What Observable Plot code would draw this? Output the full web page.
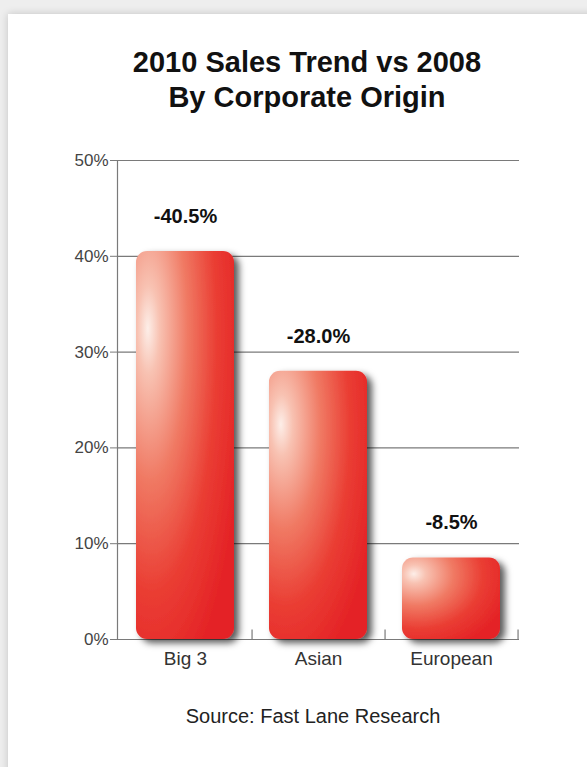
<!DOCTYPE html>
<html>
<head>
<meta charset="utf-8">
<script src="https://cdn.jsdelivr.net/npm/d3@7"></script>
<script src="https://cdn.jsdelivr.net/npm/@observablehq/plot@0.6"></script>
<style>
  html, body { margin: 0; padding: 0; width: 587px; height: 767px; overflow: hidden; background: #eeeeee; font-family: "Liberation Sans", Arial, sans-serif; }
  #card { position: absolute; left: 8px; top: 14px; width: 600px; height: 780px; background: #fff; box-shadow: 0 0 8px rgba(0,0,0,0.18); }
  #title { position: absolute; left: 0; width: 614px; top: 45px; text-align: center; font-weight: bold; font-size: 29px; line-height: 35px; color: #111; }
  #chart { position: absolute; left: 0; top: 140px; }
  #source { position: absolute; left: 0; width: 626px; top: 705px; text-align: center; font-size: 20px; color: #222; }
</style>
</head>
<body>
<div id="card"></div>
<div id="title">2010 Sales Trend vs 2008<br>By Corporate Origin</div>
<div id="chart"></div>
<div id="source">Source: Fast Lane Research</div>
<script>
const categories = ["Big 3", "Asian", "European"];
const changes = [-40.5, -28.0, -8.5];
const yTicks = [0, 10, 20, 30, 40, 50];

const data = categories.map((c, i) => ({category: c, value: Math.abs(changes[i]), label: changes[i].toFixed(1) + "%"}));

const W = 587, H = 560, mL = 117, mR = 68, mT = 20, mB = 61;
const pInner = 0.26, pOuter = 0.14;
const step = (W - mL - mR) / (categories.length - pInner + 2 * pOuter);

const plot = Plot.plot({
  width: W, height: H,
  marginLeft: mL, marginRight: mR, marginTop: mT, marginBottom: mB,
  style: {fontFamily: "Liberation Sans, Arial, sans-serif", background: "transparent", overflow: "visible"},
  x: {domain: categories, paddingInner: pInner, paddingOuter: pOuter, label: null},
  y: {domain: [0, 50], label: null},
  marks: [
    Plot.gridY(yTicks, {stroke: "#7a7a7a", strokeOpacity: 1, strokeWidth: 1.2}),
    Plot.frame({anchor: "left", stroke: "#7a7a7a", strokeWidth: 1.2}),
    Plot.ruleY([0], {stroke: "#7a7a7a", strokeWidth: 1.2}),
    Plot.ruleX(categories, {x: d => d, y1: 0, y2: 1, dx: step / 2, stroke: "#7a7a7a", strokeWidth: 1.2}),
    Plot.axisY({ticks: yTicks, tickFormat: d => d + "%", tickSize: 7, tickPadding: 2, fontSize: 17, stroke: "#7a7a7a", fill: "#444"}),
    Plot.axisX({tickSize: 0, tickPadding: 12, fontSize: 19, fill: "#333"}),
    Plot.barY(data, {x: "category", y: "value", fill: "url(#barGrad)", rx: 11}),
    Plot.text(data, {x: "category", y: "value", text: "label", dy: -35, fontSize: 20, fontWeight: "bold", fill: "#111"})
  ]
});

const svg = d3.select(plot);
const defs = svg.insert("defs", ":first-child");
const g = defs.append("radialGradient").attr("id", "barGrad")
  .attr("cx", 0.18).attr("cy", 0.22).attr("r", 0.95).attr("fx", 0.12).attr("fy", 0.2);
[[0, "#fdeee8"], [0.12, "#f8c2b2"], [0.4, "#f07a64"], [0.7, "#ea3d33"], [1, "#e42226"]]
  .forEach(([o, c]) => g.append("stop").attr("offset", o).attr("stop-color", c));
const f = defs.append("filter").attr("id", "shadow").attr("x", "-20%").attr("y", "-20%").attr("width", "150%").attr("height", "150%");
f.append("feDropShadow").attr("dx", 5).attr("dy", 4).attr("stdDeviation", 3.5).attr("flood-color", "#000").attr("flood-opacity", 0.65);
svg.selectAll("g[aria-label='bar']").attr("filter", "url(#shadow)");

document.getElementById("chart").appendChild(plot);
</script>
</body>
</html>
